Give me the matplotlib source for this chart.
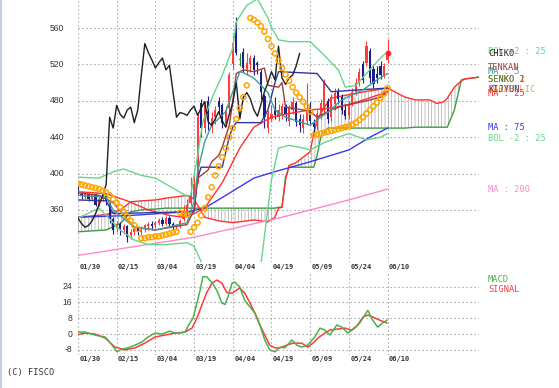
import numpy as np
import matplotlib.pyplot as plt
from matplotlib.transforms import blended_transform_factory

# ---------------- data (bar index 0 = 01/30, one bar per trading day) ----------------
date_labels = ["01/30", "02/15", "03/04", "03/19", "04/04", "04/19", "05/09", "05/24", "06/10"]
date_pos = [0, 11, 22, 33, 44, 55, 66, 77, 88]

opens = [384, 378, 374, 378, 372, 378, 366, 372, 376, 368, 350, 340, 345, 338, 342, 332, 336, 340, 336, 340,
         342, 345, 343, 346, 349, 345, 351, 345, 341, 343, 350, 356, 368, 372, 392, 478, 450, 480, 455, 462,
         480, 475, 455, 472, 520, 565, 525, 534, 515, 520, 527, 522, 512, 485, 450, 460, 470, 462, 466, 473,
         458, 470, 478, 460, 450, 458, 472, 456, 452, 465, 470, 480, 462, 476, 490, 484, 470, 464, 478, 490,
         500, 520, 522, 535, 515, 510, 518, 508, 525]
closes = [378, 376, 378, 372, 377, 366, 372, 376, 370, 350, 338, 345, 338, 342, 330, 336, 340, 336, 340, 343,
          345, 342, 346, 349, 345, 351, 345, 341, 343, 348, 356, 366, 376, 388, 462, 450, 475, 465, 461, 470,
          473, 456, 470, 508, 543, 533, 525, 516, 522, 527, 514, 519, 490, 462, 467, 466, 464, 470, 474, 464,
          472, 479, 457, 453, 460, 468, 458, 451, 465, 478, 500, 460, 484, 489, 482, 470, 463, 476, 490, 500,
          512, 503, 540, 505, 498, 505, 508, 518, 532]
highs = [386, 380, 380, 379, 379, 379, 374, 378, 378, 369, 352, 348, 347, 345, 344, 339, 342, 342, 342, 345,
         347, 348, 348, 351, 352, 353, 353, 347, 345, 350, 365, 372, 396, 398, 468, 482, 480, 485, 468, 474,
         484, 478, 474, 512, 552, 572, 532, 538, 532, 530, 530, 524, 515, 488, 470, 475, 484, 476, 478, 476,
         475, 484, 480, 465, 466, 500, 479, 460, 470, 482, 504, 483, 488, 494, 494, 488, 476, 480, 494, 505,
         516, 524, 546, 538, 520, 518, 524, 522, 548]
lows = [376, 372, 372, 370, 370, 364, 364, 370, 366, 346, 334, 336, 332, 334, 325, 328, 333, 332, 333, 336,
        338, 338, 340, 343, 342, 343, 342, 338, 338, 340, 348, 354, 366, 370, 390, 440, 445, 448, 445, 455,
        465, 450, 452, 468, 515, 530, 518, 512, 508, 512, 508, 510, 482, 450, 445, 458, 460, 458, 460, 458,
        452, 465, 452, 446, 445, 455, 455, 445, 448, 460, 466, 456, 458, 470, 478, 466, 460, 460, 474, 486,
        496, 500, 518, 500, 494, 500, 504, 505, 522]

chiko_shift = 25

ma5_x = [0, 8, 10, 16, 22, 31, 33, 34, 36, 38, 42, 44, 46, 47, 50, 54, 56, 59, 63, 66, 69, 72, 74, 76, 81, 85, 88]
ma5_y = [376, 374, 360, 341, 338, 346, 369, 402, 435, 453, 468, 490, 512, 511, 505, 489, 470, 462, 457, 453,
         462, 470, 478, 483, 492, 503, 510]

ma25_x = [0, 8, 14, 20, 26, 30, 33, 36, 41, 46, 50, 55, 60, 66, 72, 77, 82, 88]
ma25_y = [380, 378, 370, 360, 354, 352, 356, 362, 390, 428, 451, 462, 466, 470, 472, 476, 482, 490]

ma75_x = [0, 15, 31, 36, 42, 50, 55, 66, 77, 83, 88]
ma75_y = [352, 354, 358, 362, 376, 395, 401, 413, 426, 440, 450]

ma200_x = [0, 33, 57, 66, 77, 88]
ma200_y = [310, 330, 351, 360, 371, 383]

bolu_x = [0, 6, 10, 13, 18, 22, 27, 31, 32, 34, 35.5, 38.4, 41, 44, 45, 48, 51, 54, 55, 57, 60, 66, 70, 74, 76,
          79, 82, 86, 88]
bolu_y = [396, 395, 402, 405, 398, 395, 384, 375, 376, 420, 457, 486, 508, 538, 567, 585, 592, 571, 561, 547,
          545, 545, 530, 514, 495, 497, 510, 527, 534]

boll_x = [0, 6, 12, 16, 20, 25, 31, 33, 36, 44, 49, 52, 55, 57, 60, 64, 66, 70, 74, 77, 82, 86, 88]
boll_y = [351, 362, 338, 327, 322, 322, 324, 320, 295, 250, 270, 300, 393, 428, 431, 428, 426, 434, 440, 444,
          437, 440, 444]

tenkan_x = [0, 6, 10, 16, 22, 31, 33, 34, 37, 38, 40, 41, 43, 44, 45, 47, 50, 53, 54, 57, 58, 59, 64, 66, 68,
            72, 75, 82, 86, 88]
tenkan_y = [379, 376, 368, 341, 338, 344, 360, 395, 404, 413, 420, 429, 453, 479, 510, 514, 512, 516, 497, 495,
            500, 473, 470, 468, 462, 470, 474, 480, 484, 490]

kijun_x = [0, 8, 10, 31, 33, 34, 35, 41, 43, 44, 45, 52, 54, 56, 57, 68, 70, 72, 88]
kijun_y = [371, 370, 356, 358, 358, 395, 407, 407, 440, 451, 456, 456, 470, 500, 512, 510, 500, 490, 494]

cloud_x = [0, 8, 12, 15, 18, 22, 25, 31, 33, 36, 40, 44, 50, 54, 56, 57, 58, 59, 60, 62, 66, 67, 68, 69, 70,
           71, 72, 80, 88, 93, 96, 100, 102, 104, 105, 107, 109, 110, 112, 114]
senko1 = [352, 355, 360, 369, 370, 371, 373, 376, 372, 352, 348, 346, 349, 347, 352, 362, 363, 393, 409, 412,
          424, 444, 459, 466, 473, 478, 483, 489, 494, 484, 481, 481, 477, 479, 483, 495, 502, 504, 505, 506]
senko2 = [336, 338, 345, 358, 360, 361, 362, 362, 362, 362, 362, 362, 362, 362, 362, 363, 363, 396, 407, 407,
          407, 407, 420, 440, 445, 450, 450, 450, 450, 450, 451, 451, 451, 451, 451, 470, 503, 504, 505, 506]

sar = [389, 388, 387, 386, 385, 384, 383, 381, 379, 376, 372, 368, 363, 358, 353, 348, 343, 339,
       329, 329, 330, 330, 331, 331, 332, 333, 334, 335, 336,
       357, 356, 355,
       336, 341, 346, 354, 362, 374, 385, 398, 408, 418, 428, 440, 450, 460, 472, 484, 497,
       571, 569, 566, 562, 556, 548, 540, 532, 524, 516, 509, 502, 495, 489, 484, 479, 474, 468,
       442, 443, 444, 445, 446, 447, 448, 449, 450, 451, 452, 454, 456, 459, 462, 466, 470, 474, 478, 483,
       488, 494]

macd_x = [0, 2, 4.8, 7.7, 8.5, 9.7, 11.1, 12.5, 14.2, 16.2, 18.2, 19.9, 21.9, 23.9, 26.1, 27.6, 29, 30.4, 31.8,
          32.7, 33.8, 34.7, 35.5, 36.6, 38.1, 39.5, 40.9, 41.8, 42.6, 43.8, 44.6, 46, 47.4, 48.9, 50.3, 51.7,
          53.1, 54.5, 56, 57.4, 58.8, 60.8, 62.2, 63.6, 65.3, 67.3, 68.8, 70.2, 71.6, 73.6, 75, 76.7, 78.7,
          80.1, 82.4, 83.8, 85.2, 86.6, 87.8]
macd_y = [1.0, 1.0, -0.5, -1.5, -3, -5.6, -9, -7.6, -7, -5.6, -4, -1.5, 0.5, 0, 1.5, 0.5, 0.5, 1, 5.6, 8, 15.7,
          22, 29, 29, 26, 22, 15.7, 15, 18.7, 25.8, 26.3, 23.8, 17, 13.7, 10.6, 4.6, -3, -8, -9, -6.6, -7, -3,
          -5.6, -6.6, -5.6, -1.5, 3, 2, -0.5, 4.6, 3.5, 0.5, 3, 5.6, 12, 7, 3.5, 5.6, 7]

signal_x = [0, 2, 4.8, 7.7, 10.5, 13.4, 16.2, 19, 21.9, 24.7, 27.6, 30.4, 32.4, 33.8, 35.2, 36.6, 38.1, 39.5,
            40.9, 42.3, 43.8, 46, 47.4, 48.9, 50.3, 51.7, 53.1, 54.5, 56, 57.4, 59.4, 61.1, 63.6, 65.3, 66.8,
            68.2, 70.2, 71.6, 73.6, 75.9, 77.8, 79.5, 81, 82.4, 83.8, 85.8, 87.8]
signal_y = [-0.3, 0.5, 0, -2, -6.6, -8, -7, -4.6, -1.5, -0.5, 0.5, 1, 3, 8, 14.7, 21, 25.8, 27.3, 25.8, 21,
            20.7, 23.3, 20.7, 15.7, 10.6, 4.6, -0.5, -5.6, -7, -7, -5.6, -4.6, -4.6, -6.6, -4.6, -2, 0.5, 2,
            2.5, 3, 2, 4.6, 8.6, 9.6, 8.6, 7, 5.6]

price_ticks = [560, 520, 480, 440, 400, 360]
macd_ticks = [24, 16, 8, 0, -8]

# ---------------- colours ----------------
c_up, c_dn, c_eq = "#ff3c3c", "#1c1c8c", "#208a20"
c_ma5, c_ma25, c_ma75, c_ma200 = "#3aa0a0", "#ff3030", "#3838f0", "#ff88c8"
c_bol, c_tenkan, c_kijun = "#66d68a", "#a03c3c", "#34349a"
c_s1, c_s2, c_sar = "#ff3030", "#3c9c3c", "#ffa500"
c_macd, c_sig = "#4cb04c", "#ff3a3a"
grid_kw = dict(color="#8c8c8c", lw=0.8, linestyle=(0, (1, 2.6)))

W, H = 559, 388
plt.rcParams["hatch.linewidth"] = 0.5
fig = plt.figure(figsize=(W / 100, H / 100), dpi=100)

x0, x1 = 78, 479
ax = fig.add_axes([x0 / W, 1 - 262 / H, (x1 - x0) / W, 262 / H])
axm = fig.add_axes([x0 / W, 1 - 355 / H, (x1 - x0) / W, (355 - 273) / H])
for a in (ax, axm):
    a.set_xlim(0, 114)
    a.axis("off")
ax.set_ylim(302.8, 590.8)
axm.set_ylim(-10.6, 30.9)

# grid
for a, ticks, lo, hi in ((ax, price_ticks, 302.8, 590.8), (axm, macd_ticks, -10.6, 30.9)):
    for t in ticks:
        a.plot([0, 114], [t, t], zorder=0, **grid_kw)
    for p in date_pos:
        a.plot([p, p], [lo, hi], zorder=0, **grid_kw)

# kumo
ax.fill_between(cloud_x, senko1, senko2, facecolor="none", edgecolor="#a8a8a8", hatch="|||||", lw=0, zorder=1)
ax.plot(cloud_x, senko2, color=c_s2, lw=1, zorder=2)
ax.plot(cloud_x, senko1, color=c_s1, lw=1, zorder=2)

# candles
idx = np.arange(len(closes))
o, c, h, l = map(np.array, (opens, closes, highs, lows))
cols = np.where(c > o, c_up, np.where(c < o, c_dn, c_eq))
ax.vlines(idx, l, h, colors=cols, lw=0.8, zorder=3)
ax.bar(idx, np.maximum(np.abs(c - o), 1.2), bottom=np.minimum(o, c), width=0.62, color=cols, lw=0, zorder=3)

# indicator lines
ax.plot(ma200_x, ma200_y, color=c_ma200, lw=1, zorder=4)
ax.plot(ma75_x, ma75_y, color=c_ma75, lw=1, zorder=4)
ax.plot(bolu_x, bolu_y, color=c_bol, lw=1, zorder=4)
ax.plot(boll_x, boll_y, color=c_bol, lw=1, zorder=4)
ax.plot(ma25_x, ma25_y, color=c_ma25, lw=1, zorder=4)
ax.plot(kijun_x, kijun_y, color=c_kijun, lw=1, zorder=4)
ax.plot(tenkan_x, tenkan_y, color=c_tenkan, lw=1, zorder=4)
ax.plot(ma5_x, ma5_y, color=c_ma5, lw=1, zorder=4)
ax.plot(idx[chiko_shift:] - chiko_shift, c[chiko_shift:], color="#202020", lw=1, zorder=4)
ax.scatter(idx, sar, s=13, facecolors="none", edgecolors=c_sar, linewidths=1.1, zorder=5)
ax.plot([idx[-1]], [c[-1]], "o", color="#ff2020", ms=3, zorder=6)

# macd
axm.plot(signal_x, signal_y, color=c_sig, lw=1.1, zorder=3)
axm.plot(macd_x, macd_y, color=c_macd, lw=1.1, zorder=3)

# tick labels
for t in price_ticks:
    ypx = 262 * (590.8 - t) / (590.8 - 302.8)
    fig.text(64 / W, 1 - ypx / H, str(t), ha="right", va="center", fontsize=6.2,
             family="Liberation Sans", color="#333333")
for t in macd_ticks:
    ypx = 273 + 82 * (30.9 - t) / (30.9 + 10.6)
    fig.text(72 / W, 1 - ypx / H, str(t), ha="right", va="center", fontsize=6.2,
             family="Liberation Sans", color="#333333")
tr = blended_transform_factory(ax.transData, fig.transFigure)
for p, lab in zip(date_pos, date_labels):
    for ypx in (267, 359):
        ax.text(p + 0.4, 1 - ypx / H, lab, transform=tr, ha="left", va="center", fontsize=5,
                family="DejaVu Sans Mono", fontweight="bold", color="#333333", clip_on=False)

# right-hand labels (they sit at the level of each line's last value, so some overlap as in the source)
labels = [("BOL +2 : 25", c_bol, 52), ("CHIKO", "#202020", 54), ("TENKAN", c_tenkan, 68),
          ("MA : 5", c_ma5, 72), ("SENKO 1", c_s1, 79), ("SENKO 2", c_s2, 79),
          ("PARABOLIC", c_sar, 89), ("KIJYUN", c_kijun, 89), ("MA : 25", c_ma25, 93),
          ("MA : 75", c_ma75, 127), ("BOL -2 : 25", c_bol, 138), ("MA : 200", c_ma200, 190),
          ("MACD", c_macd, 280), ("SIGNAL", c_sig, 290)]
for txt, col, ypx in labels:
    fig.text(488 / W, 1 - ypx / H, txt, ha="left", va="center", fontsize=6.2,
             family="DejaVu Sans Mono", color=col)

fig.text(7 / W, 1 - 372 / H, "(C) FISCO", ha="left", va="center", fontsize=6.2,
         family="DejaVu Sans Mono", color="#333333")
fig.add_artist(plt.Line2D([1.5 / W, 1.5 / W], [0, 1], color="#c4cce4", lw=1.5))

fig.savefig("out.png", dpi=100)
